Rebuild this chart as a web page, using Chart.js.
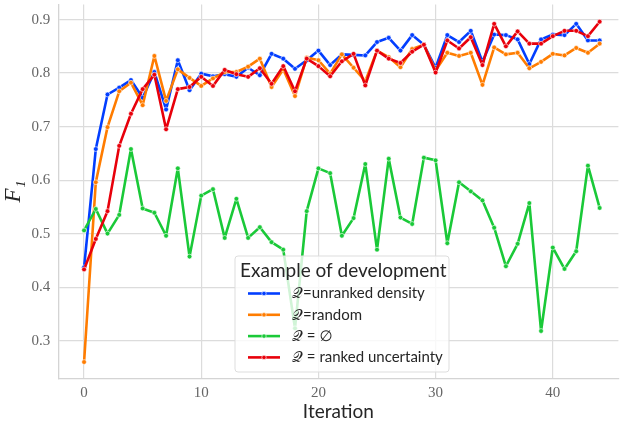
<!DOCTYPE html>
<html>
<head>
<meta charset="utf-8">
<script src="https://cdn.jsdelivr.net/npm/chart.js@4/dist/chart.umd.min.js"></script>
<style>
  html, body { margin: 0; padding: 0; background: #fff; }
  #wrap { width: 623px; height: 424px; }
</style>
</head>
<body>
<div id="wrap"><canvas id="chart"></canvas></div>
<script>
// Iteraciones (eje x)
const iterations = [0, 1, 2, 3, 4, 5, 6, 7, 8, 9, 10, 11, 12, 13, 14, 15, 16, 17, 18, 19, 20, 21,
  22, 23, 24, 25, 26, 27, 28, 29, 30, 31, 32, 33, 34, 35, 36, 37, 38, 39, 40, 41, 42, 43, 44];

// Valores F1
const unrankedDensity = [0.437, 0.658, 0.760, 0.773, 0.787, 0.754, 0.802, 0.732, 0.824, 0.768,
  0.799, 0.794, 0.798, 0.793, 0.810, 0.796, 0.836, 0.827, 0.808, 0.824, 0.842, 0.815, 0.835,
  0.834, 0.833, 0.858, 0.866, 0.842, 0.871, 0.853, 0.810, 0.871, 0.858, 0.879, 0.821, 0.872,
  0.871, 0.863, 0.817, 0.863, 0.872, 0.871, 0.892, 0.861, 0.861];
const randomQ = [0.260, 0.596, 0.699, 0.766, 0.782, 0.740, 0.832, 0.748, 0.807, 0.791,
  0.776, 0.790, 0.802, 0.802, 0.812, 0.827, 0.774, 0.807, 0.757, 0.829, 0.824, 0.799, 0.835,
  0.810, 0.785, 0.842, 0.830, 0.811, 0.845, 0.853, 0.805, 0.838, 0.832, 0.838, 0.778, 0.848,
  0.835, 0.838, 0.809, 0.821, 0.836, 0.833, 0.847, 0.838, 0.855];
const emptyQ = [0.506, 0.546, 0.500, 0.535, 0.658, 0.547, 0.539, 0.496, 0.622, 0.457,
  0.571, 0.583, 0.492, 0.565, 0.492, 0.512, 0.484, 0.470, 0.323, 0.542, 0.622, 0.613, 0.496,
  0.529, 0.630, 0.470, 0.640, 0.530, 0.518, 0.642, 0.637, 0.482, 0.596, 0.579, 0.562, 0.511,
  0.439, 0.481, 0.557, 0.318, 0.474, 0.434, 0.467, 0.627, 0.548];
const rankedUncertainty = [0.433, 0.490, 0.542, 0.664, 0.724, 0.770, 0.797, 0.695, 0.770, 0.774,
  0.793, 0.776, 0.806, 0.798, 0.793, 0.809, 0.780, 0.813, 0.766, 0.827, 0.813, 0.794, 0.822,
  0.836, 0.777, 0.842, 0.827, 0.819, 0.840, 0.853, 0.801, 0.861, 0.846, 0.867, 0.815, 0.892,
  0.850, 0.878, 0.855, 0.855, 0.869, 0.879, 0.879, 0.869, 0.896];

const seriesLabels = ['𝒬=unranked density', '𝒬=random', '𝒬 = ∅', '𝒬 = ranked uncertainty'];
const yTicks = [0.3, 0.4, 0.5, 0.6, 0.7, 0.8, 0.9];
const xTicks = [0, 10, 20, 30, 40];

const colors = ['#023eff', '#ff7c00', '#1ac938', '#e8000b'];
const allSeries = [unrankedDensity, randomQ, emptyQ, rankedUncertainty];

function toPoints(values) {
  return values.map((v, i) => ({ x: iterations[i], y: v }));
}

const datasets = allSeries.map((values, k) => ({
  label: seriesLabels[k],
  data: toPoints(values),
  borderColor: colors[k],
  backgroundColor: colors[k],
  pointBackgroundColor: colors[k],
  pointBorderColor: '#ffffff',
  pointBorderWidth: 0.6,
  pointRadius: 2.4,
  borderWidth: 2.6,
  borderJoinStyle: 'round',
  borderCapStyle: 'round',
  tension: 0,
  order: 4 - k
}));

// Leyenda dibujada a mano dentro del área del gráfico
const insideLegend = {
  id: 'insideLegend',
  afterDraw(chart) {
    const ctx = chart.ctx;
    const x = 235, y = 256, w = 214, h = 116;
    ctx.save();
    ctx.beginPath();
    ctx.roundRect(x, y, w, h, 3);
    ctx.fillStyle = 'rgba(255,255,255,0.8)';
    ctx.fill();
    ctx.strokeStyle = '#dddddd';
    ctx.lineWidth = 1;
    ctx.stroke();

    ctx.fillStyle = '#262626';
    ctx.font = '19px Lato, "DejaVu Sans", sans-serif';
    ctx.textBaseline = 'alphabetic';
    ctx.textAlign = 'left';
    ctx.fillText('Example of development', x + 5, y + 21);

    chart.data.datasets.forEach((ds, i) => {
      const ry = y + 37.5 + i * 21.3;
      ctx.strokeStyle = ds.borderColor;
      ctx.lineWidth = 2.6;
      ctx.beginPath();
      ctx.moveTo(x + 13, ry);
      ctx.lineTo(x + 45, ry);
      ctx.stroke();
      ctx.beginPath();
      ctx.arc(x + 29, ry, 2.2, 0, Math.PI * 2);
      ctx.fillStyle = ds.borderColor;
      ctx.fill();
      ctx.strokeStyle = '#ffffff';
      ctx.lineWidth = 0.6;
      ctx.stroke();
      ctx.fillStyle = '#262626';
      ctx.font = '15px Lato, "DejaVu Sans", sans-serif';
      ctx.textBaseline = 'middle';
      ctx.fillText(ds.label, x + 57, ry);
    });
    ctx.restore();
  }
};

new Chart(document.getElementById('chart'), {
  type: 'line',
  data: { datasets: datasets },
  options: {
    responsive: true,
    maintainAspectRatio: false,
    animation: false,
    layout: { padding: { top: 3.3, right: 0, left: 0, bottom: 0 } },
    plugins: {
      legend: { display: false },
      tooltip: { enabled: false }
    },
    scales: {
      x: {
        type: 'linear',
        min: -2.2,
        max: 45.6,
        afterFit(scale) {
          scale.height = 45.7;
          scale.paddingLeft = 0;
          scale.paddingRight = 0;
        },
        afterBuildTicks(scale) { scale.ticks = xTicks.map(v => ({ value: v })); },
        grid: { color: '#dcdcdc', lineWidth: 1.2, drawTicks: false },
        border: { color: '#d4d4d4', width: 1.3 },
        ticks: {
          padding: 6,
          color: '#666666',
          font: { family: '"Liberation Serif", serif', size: 15 }
        },
        title: {
          display: true,
          text: 'Iteration',
          color: '#262626',
          font: { family: 'Lato, "DejaVu Sans", sans-serif', size: 19 },
          padding: { top: 0, bottom: 1 }
        }
      },
      y: {
        min: 0.2296,
        max: 0.928,
        afterFit(scale) {
          scale.width = 58.3;
          scale.paddingTop = 0;
          scale.paddingBottom = 0;
        },
        afterBuildTicks(scale) { scale.ticks = yTicks.map(v => ({ value: v })); },
        grid: { color: '#dcdcdc', lineWidth: 1.2, drawTicks: false },
        border: { color: '#d4d4d4', width: 1.3 },
        ticks: {
          padding: 8,
          color: '#666666',
          font: { family: '"Liberation Serif", serif', size: 15 },
          callback: v => v.toFixed(1)
        },
        title: {
          display: true,
          text: 'F₁',
          color: '#262626',
          font: { family: '"Liberation Serif", serif', size: 23, style: 'italic' },
          padding: { top: 0, bottom: 4 }
        }
      }
    }
  },
  plugins: [insideLegend]
});
</script>
</body>
</html>
